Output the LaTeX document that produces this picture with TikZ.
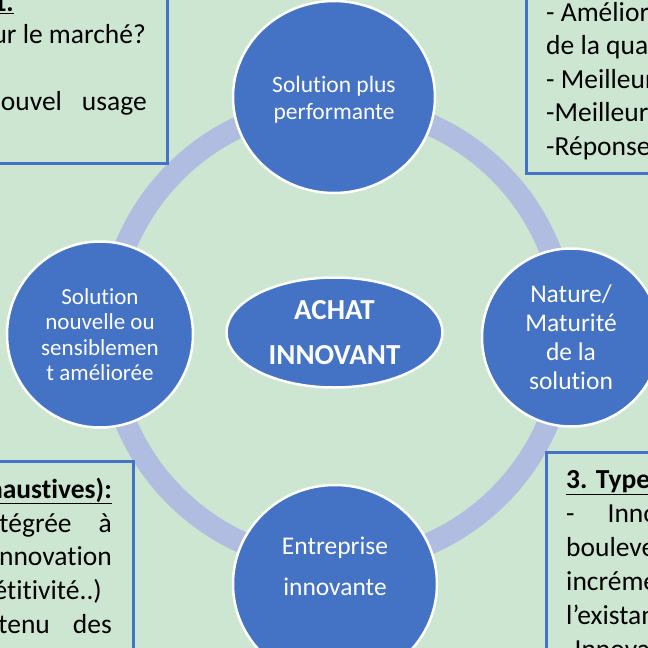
\documentclass[tikz,border=0pt]{standalone}
\usepackage{fontspec}
\setmainfont{Carlito}[Ligatures=NoCommon]
\usetikzlibrary{shapes.geometric}
\definecolor{bgc}{RGB}{205,230,209}
\definecolor{ringc}{RGB}{176,189,225}
\definecolor{blueA}{RGB}{68,114,196}
\tikzset{
  ringline/.style={draw=ringc, line width=22pt},
  bub/.style={ellipse, fill=blueA, draw=white, line width=2.5pt, text=white, align=center, inner sep=0pt},
  bubtxt/.style={text=white, align=center, inner sep=0pt},
  boxline/.style={draw=blueA, line width=3pt},
  btxt/.style={inner sep=0pt, font=\fontsize{27.5}{33}\selectfont, text=black},
}
\begin{document}
\begin{tikzpicture}[x=1pt,y=-1pt]
\useasboundingbox (0,0) rectangle (648,648);
\fill[bgc] (0,0) rectangle (648,648);
\clip (0,0) rectangle (648,648);
% ring
\coordinate (rc) at (337,334);
\draw[ringline] (rc) circle[radius=229pt];
% bubbles
\node[bub, minimum width=202pt, minimum height=192pt] (c1) at (334,97) {};
\node[bubtxt, font=\fontsize{23.5}{27}\selectfont] (t1) at (334,100) {Solution plus\\performante};
\node[bub, minimum width=186pt, minimum height=186pt, font=\fontsize{23}{25.5}\selectfont] (c2) at (100,334.5) {Solution\\nouvelle ou\\sensiblemen\\t améliorée};
\node[bub, minimum width=178pt, minimum height=178pt, font=\fontsize{25.5}{29}\selectfont] (c3) at (571,337.5) {Nature/\\Maturité\\de la\\solution};
\node[bub, minimum width=204pt, minimum height=198pt] (c4) at (335,584) {};
\node[bubtxt, font=\fontsize{25.5}{41}\selectfont] (t4) at (335,566.5) {Entreprise\\innovante};
\node[bub, minimum width=216pt, minimum height=110pt, font=\bfseries\fontsize{29}{45}\selectfont] (c0) at (334.5,332.5) {ACHAT\\INNOVANT};
% boxes
\draw[boxline] (-10,-10) rectangle (167,163);
\draw[boxline] (526,-10) rectangle (660,173);
\draw[boxline] (-10,461) rectangle (133,660);
\draw[boxline] (546,452) rectangle (660,660);
% top-left text
\node[btxt, anchor=base east] (tl1) at (14,11.5) {\underline{\textbf{1.}}};
\node[btxt, anchor=base east] (tl2) at (146,43) {sur le marché?};
\node[btxt, anchor=base east] (tl3) at (147,110) {nouvel\hspace{20pt}usage};
% top-right text
\node[btxt, anchor=base west] (tr1) at (546,21.5) {- Amélioration};
\node[btxt, anchor=base west] (tr2) at (546,54.5) {de la qualité};
\node[btxt, anchor=base west] (tr3) at (546,88) {- Meilleure};
\node[btxt, anchor=base west] (tr4) at (546,121) {-Meilleure};
\node[btxt, anchor=base west] (tr5) at (546,155) {-Réponse};
% bottom-left text
\node[btxt, anchor=base east] (bl1) at (112,498) {\underline{\textbf{(non exhaustives):}}};
\node[btxt, anchor=base east] (bl2) at (112,532) {intégrée\hspace{27pt}à};
\node[btxt, anchor=base east] (bl3) at (112,565) {innovation};
\node[btxt, anchor=base east] (bl4) at (102,599) {compétitivité..)};
\node[btxt, anchor=base east] (bl5) at (112,633) {tenu\hspace{23pt}des};
% bottom-right text
\node[btxt, anchor=base west] (br1) at (566,488) {\underline{\textbf{3. Types}}};
\node[btxt, anchor=base west] (br2) at (566,522) {-\hspace{33pt}Innovation};
\node[btxt, anchor=base west] (br3) at (566,556) {bouleversante};
\node[btxt, anchor=base west] (br4) at (566,590) {incrémentale};
\node[btxt, anchor=base west] (br5) at (566,624) {l’existant};
\node[btxt, anchor=base west] (br6) at (566,658) {-Innovation};
\end{tikzpicture}
\end{document}
